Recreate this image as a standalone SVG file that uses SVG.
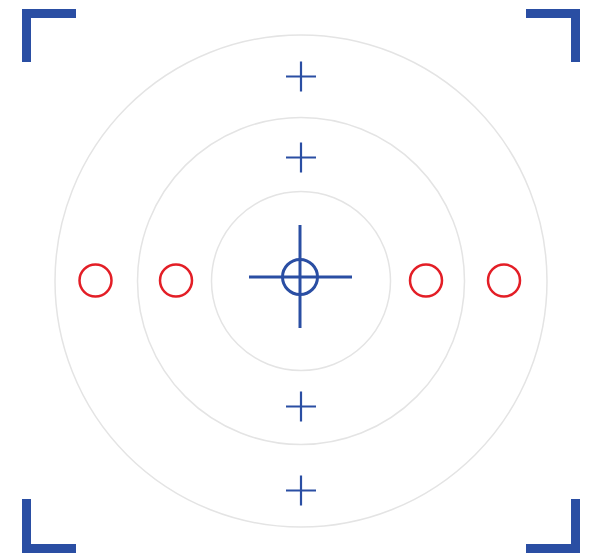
<svg xmlns="http://www.w3.org/2000/svg" width="592" height="555" viewBox="0 0 592 555">
<style>
.ring{fill:none;stroke:#e4e4e4;stroke-width:1.5}
.br{fill:#2a4ea3}
.bl{stroke:#2a4ea3;stroke-width:3;fill:none}
.pl{stroke:#2a4ea3;stroke-width:2.2;fill:none}
.rd{fill:none;stroke:#e31e26;stroke-width:2.5}
</style>
<rect width="592" height="555" fill="#fff"/>
<circle class="ring" cx="301" cy="281" r="246"/>
<circle class="ring" cx="301" cy="281" r="163.5"/>
<circle class="ring" cx="301" cy="281" r="89.5"/>
<path class="br" d="M22 9H76V18H31V62H22Z"/>
<path class="br" d="M580 9H526V18H571V62H580Z"/>
<path class="br" d="M22 553H76V544H31V499H22Z"/>
<path class="br" d="M580 553H526V544H571V499H580Z"/>
<g class="bl">
<line x1="249" y1="277" x2="352" y2="277"/>
<line x1="300" y1="225" x2="300" y2="328"/>
<circle cx="300" cy="277" r="17.5"/>
</g>
<g class="pl">
<path d="M286 76.5H316M301 61.5V91.5"/>
<path d="M286 157.5H316M301 142.5V172.5"/>
<path d="M286 406.5H316M301 391.5V421.5"/>
<path d="M286 490.5H316M301 475.5V505.5"/>
</g>
<circle class="rd" cx="95.5" cy="280.5" r="16"/>
<circle class="rd" cx="176" cy="280.5" r="16"/>
<circle class="rd" cx="426" cy="280.5" r="16"/>
<circle class="rd" cx="504" cy="280.5" r="16"/>
</svg>
